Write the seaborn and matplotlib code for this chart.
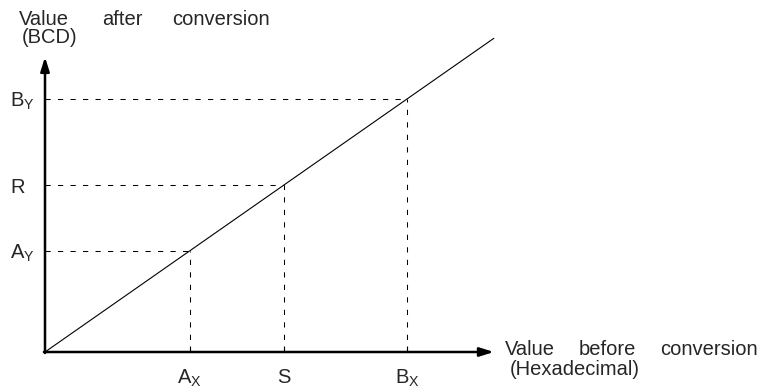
import matplotlib
matplotlib.use("Agg")
import matplotlib.pyplot as plt
import seaborn as sns
import pandas as pd

# Conversion points on the scaling line (input on x, output on y)
x_points = [4.0, 6.6, 10.0]
y_points = [4.0, 6.6, 10.0]
x_tick_labels = [r"$\mathrm{A}_\mathrm{X}$", r"$\mathrm{S}$", r"$\mathrm{B}_\mathrm{X}$"]
y_tick_labels = [r"$\mathrm{A}_\mathrm{Y}$", r"$\mathrm{R}$", r"$\mathrm{B}_\mathrm{Y}$"]

# Scaling line endpoints
line_x = [0.0, 12.4]
line_y = [0.0, 12.4]

# Axis arrow extents
x_axis_end = 12.4
y_axis_end = 11.66

y_title_words = ["Value", "after", "conversion"]
y_title_unit = "(BCD)"
x_title_words = ["Value", "before", "conversion"]
x_title_unit = "(Hexadecimal)"

sns.set_theme(style="white")
plt.rcParams["font.family"] = ["Liberation Sans", "DejaVu Sans"]
plt.rcParams["mathtext.fontset"] = "custom"
plt.rcParams["mathtext.rm"] = "Liberation Sans"
plt.rcParams["mathtext.it"] = "Liberation Sans:italic"
plt.rcParams["mathtext.bf"] = "Liberation Sans:bold"

W, H = 769, 391
FS = 14.5
fig = plt.figure(figsize=(W / 100, H / 100), dpi=100)
fig.patch.set_facecolor("white")
ax = fig.add_axes([45 / W, 39 / H, 460 / W, 322 / H])
ax.set_facecolor("white")

ax.set_xlim(0, 460 / 36.2)
ax.set_ylim(0, 322 / 25.3)

# Diagonal scaling line
df = pd.DataFrame({"x": line_x, "y": line_y})
sns.lineplot(data=df, x="x", y="y", ax=ax, color="black", linewidth=0.8)

# Dashed guides from each point to both axes
dash = (0, (5, 7))
ax.hlines(y_points, 0, x_points, colors="black", linewidth=0.75, linestyles=[dash])
ax.vlines(x_points, 0, y_points, colors="black", linewidth=0.75, linestyles=[dash])

# Axes drawn as arrows
for spine in ax.spines.values():
    spine.set_visible(False)
arrow = dict(arrowstyle="-|>,head_length=0.7,head_width=0.22", lw=1.8,
             color="black", mutation_scale=12, shrinkA=0, shrinkB=0)
ax.annotate("", xy=(x_axis_end, 0), xytext=(-0.03, 0), arrowprops=arrow,
            annotation_clip=False)
ax.annotate("", xy=(0, y_axis_end), xytext=(0, -0.04), arrowprops=arrow,
            annotation_clip=False)

# Ticks and labels
ax.set_xticks(x_points)
ax.set_xticklabels(x_tick_labels, fontsize=FS)
ax.set_yticks(y_points)
ax.set_yticklabels(y_tick_labels, fontsize=FS)
ax.tick_params(axis="x", direction="in", length=4, width=0.8, color="black",
               pad=11.5, bottom=True)
ax.tick_params(axis="y", length=0, pad=25.5, left=True)
for lbl in ax.get_yticklabels():
    lbl.set_horizontalalignment("left")
ax.set_xlabel("")
ax.set_ylabel("")
ax.grid(False)


def fx(px):
    return px / W


def fy(py):
    return 1 - py / H


# Y axis title (justified words)
for word, cx in zip(y_title_words, [43.5, 122.5, 221]):
    fig.text(fx(cx), fy(25), word, ha="center", va="baseline", fontsize=FS)
fig.text(fx(22), fy(43), y_title_unit, ha="left", va="baseline", fontsize=FS)

# X axis title (justified words)
for word, cx in zip(x_title_words, [529.5, 607.5, 709]):
    fig.text(fx(cx), fy(355), word, ha="center", va="baseline", fontsize=FS)
fig.text(fx(510), fy(375), x_title_unit, ha="left", va="baseline", fontsize=FS)

fig.savefig("out.png", dpi=100, facecolor="white")
